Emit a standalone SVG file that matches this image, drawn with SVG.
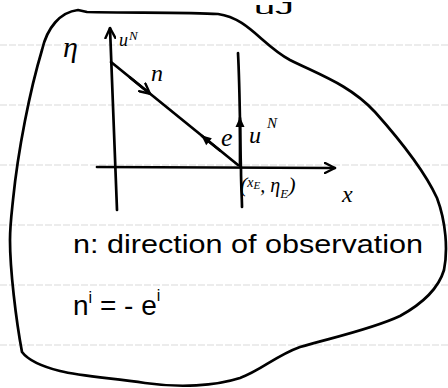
<svg xmlns="http://www.w3.org/2000/svg" width="448" height="388" viewBox="0 0 448 388">
<style>
.ink{fill:none;stroke:#000;stroke-width:2.7;stroke-linecap:round;stroke-linejoin:round}
.rule{stroke:#d9d9d9;stroke-width:1;stroke-dasharray:7 2}
.t{font-family:"Liberation Sans","DejaVu Sans",sans-serif;fill:#000}
.m{font-family:"Liberation Serif","DejaVu Serif",serif;font-style:italic;fill:#000}
</style>
<defs>
<marker id="open" viewBox="0 0 12 12" refX="11" refY="6" markerWidth="12" markerHeight="12" markerUnits="userSpaceOnUse" orient="auto">
<path d="M1,1 L11,6 L1,11" fill="none" stroke="#000" stroke-width="2.4" stroke-linecap="round"/>
</marker>
<marker id="solid" viewBox="0 0 12 12" refX="10" refY="6" markerWidth="12" markerHeight="12" markerUnits="userSpaceOnUse" orient="auto">
<path d="M1,1.5 L11,6 L1,10.5 Z" fill="#000"/>
</marker>
</defs>
<rect width="448" height="388" fill="#fff"/>
<g id="paper-rules">
<line class="rule" x1="0" y1="45" x2="448" y2="45"/>
<line class="rule" x1="0" y1="105" x2="448" y2="105"/>
<line class="rule" x1="0" y1="165" x2="448" y2="165"/>
<line class="rule" x1="0" y1="225" x2="448" y2="225"/>
<line class="rule" x1="0" y1="285" x2="448" y2="285"/>
<line class="rule" x1="0" y1="345" x2="448" y2="345"/>
</g>
<text class="t" x="254" y="14" font-size="17" textLength="40" lengthAdjust="spacingAndGlyphs">uJ</text>
<g id="blob">
<path class="ink" d="M13,200 C18,150 30,90 42,50 C47,28 60,12 78,10 L87,12 C130,13 190,12 218,14 C248,18 262,45 290,60 C320,75 350,85 375,112 C400,140 425,172 437,198 C446,222 448,250 444,270 C438,290 420,305 400,316 C370,330 330,338 300,347 C275,356 262,370 240,378 C215,386 180,388 145,383 C110,378 80,376 60,371 C40,366 28,360 22,352 C16,320 10,270 10,240 C10,225 12,210 13,200"/>
</g>
<g id="connectors">
<line class="ink" x1="117" y1="210" x2="110" y2="28" marker-end="url(#open)"/>
<line class="ink" x1="97" y1="167" x2="335" y2="168" marker-end="url(#open)"/>
<path class="ink" d="M238,53 C240,90 240,140 241,170 C241,185 242,200 242,207"/>
<line class="ink" x1="240" y1="167" x2="240" y2="118" marker-end="url(#solid)"/>
<line class="ink" x1="111" y1="62" x2="238" y2="165"/>
<line class="ink" x1="130" y1="77.5" x2="150" y2="93.7" marker-end="url(#open)"/>
<line class="ink" x1="220" y1="150.5" x2="202" y2="136" marker-end="url(#solid)"/>
</g>
<g id="labels">
<text class="m" x="63" y="57" font-size="30">η</text>
<text class="m" x="119" y="46" font-size="18">u<tspan x="129" y="40" font-size="13">N</tspan></text>
<text class="m" x="151" y="81" font-size="24">n</text>
<text class="m" x="221" y="146" font-size="26">e</text>
<text class="m" x="249" y="143" font-size="24">u<tspan x="267" y="128" font-size="15">N</tspan></text>
<text class="m" x="240" y="192" font-size="22">(<tspan font-size="14" dy="-5">x</tspan><tspan font-size="11" dy="2">E</tspan><tspan font-size="20" dy="3">, η</tspan><tspan font-size="13" dy="6">E</tspan><tspan font-size="22" dy="-6">)</tspan></text>
<text class="m" x="342" y="202" font-size="24">x</text>
<text class="t" x="73" y="253" font-size="25" textLength="350" lengthAdjust="spacingAndGlyphs">n: direction of observation</text>
<text class="t" x="73" y="315" font-size="28">n<tspan font-size="16" dy="-12">i</tspan><tspan dy="12"> = - e</tspan><tspan font-size="16" dy="-14">i</tspan></text>
</g>
</svg>
